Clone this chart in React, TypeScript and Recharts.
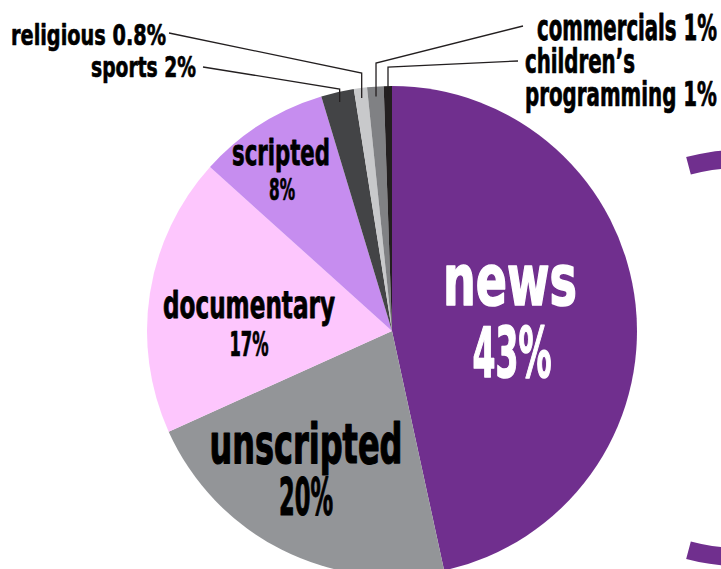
import { PieChart, Pie, Cell } from 'recharts';

// programme genres, clockwise from 12 o'clock
const categories = [
  'news',
  'unscripted',
  'documentary',
  'scripted',
  'sports',
  'religious',
  'commercials',
  'children’s programming',
];
// slice sizes as drawn
const shares = [43, 20, 17, 8, 2, 0.8, 1, 0.5];
// percentages as printed on the chart
const shareLabels = ['43%', '20%', '17%', '8%', '2%', '0.8%', '1%', '1%'];
const colors = ['#702f8e', '#939598', '#fdc6fd', '#c68def', '#434446', '#c8c9cb', '#808184', '#231f20'];

// edge of the neighbouring (cropped) chart on the right
const nextChart = [{ name: 'next', value: 1 }];

const data = categories.map((name, i) => ({ name, value: shares[i], label: shareLabels[i] }));

const FONT = '"DejaVu Sans Condensed", "DejaVu Sans", sans-serif';
const RAD = Math.PI / 180;

let ctx: CanvasRenderingContext2D | null = null;
function measure(text: string, size: number) {
  if (!ctx) ctx = document.createElement('canvas').getContext('2d');
  if (!ctx) return text.length * size * 0.55;
  ctx.font = `700 ${size}px ${FONT}`;
  return ctx.measureText(text).width;
}

// condensed bold text squeezed to the width seen in the reference
function Squeezed({ x, y, text, size, w, anchor, fill }: any) {
  const k = w / measure(text, size);
  return (
    <text
      transform={`translate(${x},${y}) scale(${k},1)`}
      textAnchor={anchor}
      fontFamily={FONT}
      fontWeight={700}
      fontSize={size}
      fill={fill}
      stroke={fill}
      strokeWidth={size * 0.022}
      strokeLinejoin="round"
    >
      {text}
    </text>
  );
}

type Line = { dx: number; dy: number; size: number; w: number };

// labels drawn inside their slice, offsets from the pie centre
const inside: Record<string, { fill: string; name: Line; pct: Line }> = {
  news: {
    fill: '#ffffff',
    name: { dx: 118, dy: -26, size: 72, w: 134 },
    pct: { dx: 120, dy: 46, size: 70, w: 79 },
  },
  unscripted: {
    fill: '#000000',
    name: { dx: -86, dy: 132, size: 56, w: 193 },
    pct: { dx: -86, dy: 184, size: 51, w: 54 },
  },
  documentary: {
    fill: '#000000',
    name: { dx: -143, dy: -13, size: 38, w: 172 },
    pct: { dx: -143, dy: 25, size: 33, w: 39 },
  },
  scripted: {
    fill: '#000000',
    name: { dx: -111, dy: -166, size: 36, w: 98 },
    pct: { dx: -110, dy: -131, size: 30, w: 26 },
  },
};

// labels outside the pie with a leader line
const outside: Record<
  string,
  { anchor: 'start' | 'end'; x: number; split: boolean; lines: { y: number; size: number; w: number }[]; elbowY: number; tip: [number, number] }
> = {
  sports: { anchor: 'end', x: 196, split: false, lines: [{ y: 77, size: 29, w: 105 }], elbowY: 89, tip: [203, 67] },
  religious: { anchor: 'end', x: 166, split: false, lines: [{ y: 45, size: 29, w: 155 }], elbowY: 73, tip: [169, 33] },
  commercials: { anchor: 'start', x: 537, split: false, lines: [{ y: 40, size: 35, w: 180 }], elbowY: 63, tip: [523, 26] },
  'children’s programming': {
    anchor: 'start',
    x: 525,
    split: true,
    lines: [
      { y: 73, size: 33, w: 110 },
      { y: 106, size: 33, w: 192 },
    ],
    elbowY: 67,
    tip: [518, 61],
  },
};

function renderLabel(props: any) {
  const { cx, cy, midAngle, outerRadius, name, payload } = props;
  const pct = payload?.label ?? '';
  const ins = inside[name];
  if (ins) {
    return (
      <g>
        <Squeezed x={cx + ins.name.dx} y={cy + ins.name.dy} text={name} size={ins.name.size} w={ins.name.w} anchor="middle" fill={ins.fill} />
        <Squeezed x={cx + ins.pct.dx} y={cy + ins.pct.dy} text={pct} size={ins.pct.size} w={ins.pct.w} anchor="middle" fill={ins.fill} />
      </g>
    );
  }
  const o = outside[name];
  if (!o) return null;
  const r = outerRadius - 10;
  const sx = cx + r * Math.cos(-midAngle * RAD);
  const sy = cy + r * Math.sin(-midAngle * RAD);
  const words = name.split(' ');
  const texts = o.split ? [words[0], `${words.slice(1).join(' ')} ${pct}`] : [`${name} ${pct}`];
  return (
    <g>
      <polyline
        points={`${sx},${sy} ${sx},${o.elbowY} ${o.tip[0]},${o.tip[1]}`}
        fill="none"
        stroke="#231f20"
        strokeWidth={1.3}
      />
      {texts.map((t, i) => (
        <Squeezed key={i} x={o.x} y={o.lines[i].y} text={t} size={o.lines[i].size} w={o.lines[i].w} anchor={o.anchor} fill="#000000" />
      ))}
    </g>
  );
}

export default function App() {
  return (
    <div style={{ position: 'absolute', left: 0, top: 0, width: 721, height: 569, background: '#fff' }}>
      <PieChart width={721} height={569} margin={{ top: 0, right: 0, bottom: 0, left: 0 }}>
        <Pie
          data={data}
          dataKey="value"
          nameKey="name"
          cx={392}
          cy={331}
          outerRadius={245}
          startAngle={90}
          endAngle={-270}
          stroke="none"
          label={renderLabel}
          labelLine={false}
          isAnimationActive={false}
        >
          {data.map((d, i) => (
            <Cell key={d.name} fill={colors[i]} />
          ))}
        </Pie>
        <Pie
          data={nextChart}
          dataKey="value"
          cx={740}
          cy={358}
          innerRadius={190}
          outerRadius={208}
          startAngle={105}
          endAngle={-105}
          stroke="none"
          fill="#702f8e"
          label={false}
          labelLine={false}
          isAnimationActive={false}
        />
      </PieChart>
    </div>
  );
}
